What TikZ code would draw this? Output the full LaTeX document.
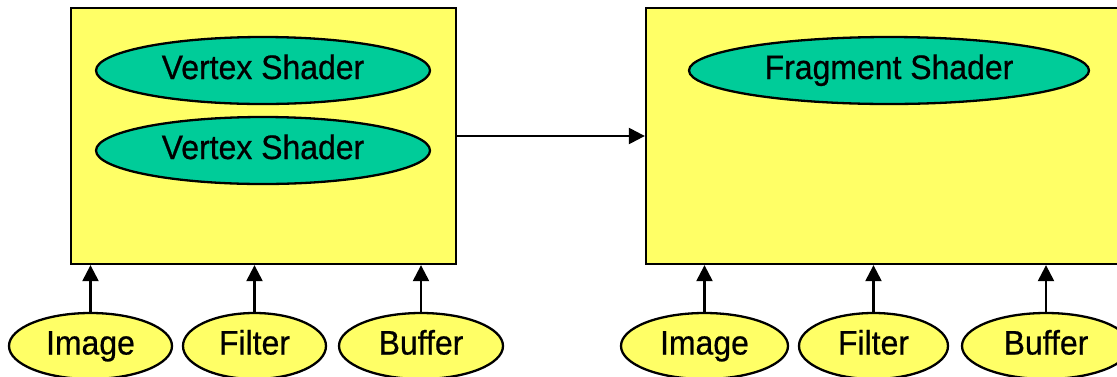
\documentclass[tikz,border=0pt]{standalone}
\usepackage{fontspec}
\setmainfont{Liberation Sans}[FakeStretch=0.94,FakeBold=0.6]
\usetikzlibrary{shapes.geometric,arrows.meta}
\definecolor{boxyellow}{HTML}{FFFF66}
\definecolor{shadegreen}{HTML}{00CC99}
\tikzset{
  stagebox/.style={draw=black, line width=2.3pt, fill=boxyellow, rectangle, inner sep=0pt},
  shaderell/.style={draw=black, line width=2.3pt, fill=shadegreen, ellipse, inner sep=0pt,
    minimum height=67pt, text height=24pt, text depth=7pt,
    font=\fontsize{34}{38}\selectfont},
  inputell/.style={draw=black, line width=2.3pt, fill=boxyellow, ellipse, inner sep=0pt,
    minimum height=66pt, text height=24pt, text depth=7pt,
    font=\fontsize{34}{38}\selectfont},
  flow/.style={line width=2.3pt, -{Triangle[length=16pt,width=16pt]}},
}
\begin{document}
\begin{tikzpicture}[x=1pt,y=-1pt]
\useasboundingbox (0,0) rectangle (1117,376);
\clip (0,0) rectangle (1117,376);
% stage boxes
\node[stagebox, minimum width=385pt, minimum height=256pt] (L) at (263.5,136) {};
\node[stagebox, minimum width=484pt, minimum height=256pt] (R) at (888,136) {};
% shaders
\node[shaderell, minimum width=334pt] (vs1) at (263,70.5) {Vertex Shader};
\node[shaderell, minimum width=334pt] (vs2) at (263,150.5) {Vertex Shader};
\node[shaderell, minimum width=400pt] (fs) at (889,70.5) {Fragment Shader};
% inputs left
\node[inputell, minimum width=163pt] (img1) at (90.5,346) {Image};
\node[inputell, minimum width=143pt] (fil1) at (254.5,346) {Filter};
\node[inputell, minimum width=164pt] (buf1) at (421,346) {Buffer};
% inputs right
\node[inputell, minimum width=167pt] (img2) at (704.5,346) {Image};
\node[inputell, minimum width=149pt] (fil2) at (873.5,346) {Filter};
\node[inputell, minimum width=168pt] (buf2) at (1046,346) {Buffer};
% connectors
\draw[flow] (L.east) -- (R.west);
\foreach \n in {img1,fil1,buf1}{
  \draw[flow] (\n.north) -- (\n.north |- L.south);
}
\foreach \n in {img2,fil2,buf2}{
  \draw[flow] (\n.north) -- (\n.north |- R.south);
}
\end{tikzpicture}
\end{document}
